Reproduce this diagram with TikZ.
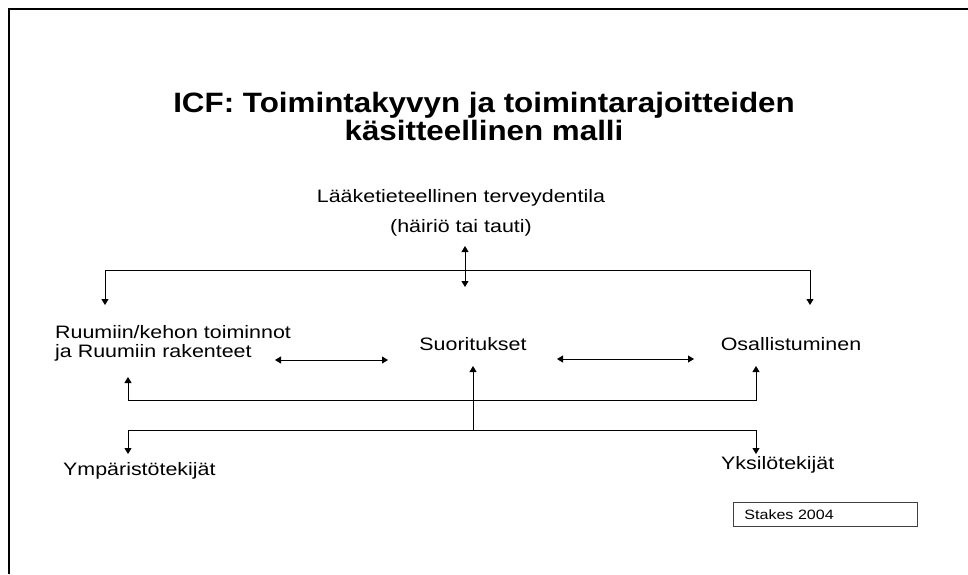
\documentclass[tikz,border=0pt]{standalone}
\usepackage{fontspec}
\setmainfont{Liberation Sans}[FakeStretch=1.19]
\newfontfamily\titlefont{Liberation Sans}[FakeStretch=1.12]
\usetikzlibrary{arrows.meta}
\tikzset{
  lbl/.style={inner sep=0pt, font=\fontsize{18}{19}\selectfont},
  tip/.tip={Triangle[length=6pt,width=7pt]},
  arr/.style={-tip, line width=0.9pt},
  dbl/.style={tip-tip, line width=0.9pt},
}

\begin{document}
\begin{tikzpicture}[x=1pt,y=-1pt]
  %%%%% START %%%%%
  \useasboundingbox (0,0) rectangle (968,574);
  \draw[line width=2.4pt] (9,574) -- (9,9) -- (968,9);

  \node[anchor=north, inner sep=0pt, align=center, font=\titlefont\bfseries\fontsize{28}{28}\selectfont] (title) at (484,92) {ICF: Toimintakyvyn ja toimintarajoitteiden\\käsitteellinen malli};

  \node[lbl, anchor=north, align=center, font=\fontsize{18}{30}\selectfont] (health) at (461,189) {Lääketieteellinen terveydentila\\(häiriö tai tauti)};

  \node[lbl, anchor=north west, align=left] (body) at (55,325) {Ruumiin/kehon toiminnot\\ja Ruumiin rakenteet};
  \node[lbl, anchor=base] (act) at (473,350) {Suoritukset};
  \node[lbl, anchor=base] (part) at (791,350) {Osallistuminen};

  \node[lbl, anchor=base west] (env) at (63,475) {Ympäristötekijät};
  \node[lbl, anchor=base west] (pers) at (721,469) {Yksilötekijät};

  \node[draw=black!75, line width=0.8pt, anchor=north west, text width=162pt, inner xsep=11pt, inner ysep=5pt, text height=12pt, text depth=2pt, font=\fontsize{13.5}{15}\selectfont] (stakes) at (733,502) {Stakes 2004};

  % top bar
  \coordinate (hubT) at (465,246);
  \coordinate (hubB) at (465,287);
  \coordinate (topL) at (105,270);
  \coordinate (topR) at (810,270);
  \coordinate (bodyIn) at (105,305);
  \coordinate (partIn) at (810,305);
  \draw[dbl] (bodyIn) -- (topL) -- (topR) -- (partIn);
  \draw[dbl] (hubT) -- (hubB);

  % between the three
  \coordinate (bsL) at (275,360);
  \coordinate (bsR) at (388,360);
  \coordinate (spL) at (557,359);
  \coordinate (spR) at (694,359);
  \draw[dbl] (bsL) -- (bsR);
  \draw[dbl] (spL) -- (spR);

  % bottom bars
  \coordinate (upL) at (128,400);
  \coordinate (upR) at (756,400);
  \coordinate (bodyUp) at (128,377);
  \coordinate (partUp) at (756,366);
  \draw[dbl] (bodyUp) -- (upL) -- (upR) -- (partUp);

  \coordinate (midB) at (473,430);
  \coordinate (midT) at (473,366);
  \coordinate (envL) at (128,430);
  \coordinate (persR) at (756,430);
  \coordinate (envIn) at (128,454);
  \coordinate (persIn) at (756,454);
  \draw[dbl] (envIn) -- (envL) -- (persR) -- (persIn);
  \draw[arr] (midB) -- (midT);
  %%%%% END %%%%%
\end{tikzpicture}
\end{document}
